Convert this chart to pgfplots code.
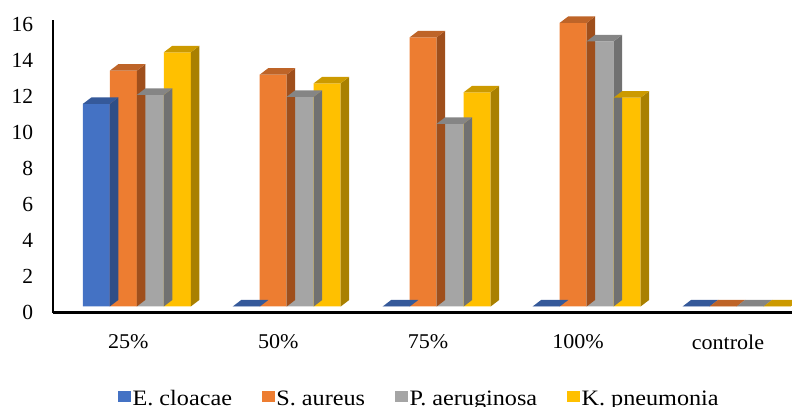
\documentclass[border=0pt]{standalone}
\usepackage{fontspec}
\setmainfont{Liberation Serif}
\newfontfamily\widefont[FakeStretch=1.1]{Liberation Serif}
\newfontfamily\labfont[FakeStretch=1.05]{Liberation Serif}
\usepackage{pgfplots}
\usepackage{pgfplotstable}
\pgfplotsset{compat=1.18}

\definecolor{cBlue}{HTML}{4472C4}
\definecolor{cBlueTop}{HTML}{35599A}
\definecolor{cBlueSide}{HTML}{2E4E87}
\definecolor{cOrange}{HTML}{ED7D31}
\definecolor{cOrangeTop}{HTML}{BE6428}
\definecolor{cOrangeSide}{HTML}{9F4F1C}
\definecolor{cGray}{HTML}{A5A5A5}
\definecolor{cGrayTop}{HTML}{858585}
\definecolor{cGraySide}{HTML}{717171}
\definecolor{cYellow}{HTML}{FFC000}
\definecolor{cYellowTop}{HTML}{CC9A00}
\definecolor{cYellowSide}{HTML}{A98000}

\pgfplotstableread{
x ecl sau pae kpn
0 11.25 13.10 11.75 14.12
1 0     12.88 11.65 12.40
2 0     14.95 10.15 11.90
3 0     15.75 14.73 11.60
4 0     0     0     0
}\data

% side and top face of a bar, origin at the top centre of its front face
% (18bp per unit on the y axis)
\newcommand\boxmark[3]{%
  \pgfdeclareplotmark{#1}{%
    \pgfmathsetmacro\hh{\val*18}%
    \pgfpathmoveto{\pgfqpoint{13.5bp}{0bp}}%
    \pgfpathlineto{\pgfqpoint{22bp}{6.5bp}}%
    \pgfpathlineto{\pgfpoint{22bp}{6.5bp-\hh bp}}%
    \pgfpathlineto{\pgfpoint{13.5bp}{-\hh bp}}%
    \pgfpathclose
    \pgfsetfillcolor{#2}\pgfusepath{fill}%
    \pgfpathmoveto{\pgfqpoint{-13.5bp}{0bp}}%
    \pgfpathlineto{\pgfqpoint{13.5bp}{0bp}}%
    \pgfpathlineto{\pgfqpoint{22bp}{6.5bp}}%
    \pgfpathlineto{\pgfqpoint{-5bp}{6.5bp}}%
    \pgfpathclose
    \pgfsetfillcolor{#3}\pgfusepath{fill}%
  }}
\boxmark{boxA}{cBlueSide}{cBlueTop}
\boxmark{boxB}{cOrangeSide}{cOrangeTop}
\boxmark{boxC}{cGraySide}{cGrayTop}
\boxmark{boxD}{cYellowSide}{cYellowTop}

\pgfplotsset{
  front/.style={ybar, bar width=27bp, bar shift=0pt, draw=none, fill=#1,
    yshift=6bp, forget plot},
  caps/.style={scatter, only marks, mark=#1, point meta=y, yshift=6bp, forget plot,
    visualization depends on={rawy \as \val},
    scatter/@pre marker code/.code={}, scatter/@post marker code/.code={}},
  sq/.style={legend image code/.code={\fill[#1] (0bp,-2bp) rectangle (12bp,7.5bp);}},
}

\begin{document}
\begin{tikzpicture}
\path[use as bounding box] (0,0) rectangle (792bp,407bp);
\begin{axis}[
  at={(53.3bp,94.5bp)}, anchor=south west,
  scale only axis, width=738.7bp, height=292.5bp,
  xmin=-0.5, xmax=4.4267, ymin=0, ymax=16.25,
  axis lines*=left,
  x axis line style={line width=2.6bp},
  y axis line style={line width=2bp},
  major tick length=0pt,
  xtick={0,...,4},
  xticklabels={25\%,50\%,75\%,100\%,controle},
  ytick={0,2,...,16},
  /pgf/number format/assume math mode=true,
  yticklabel style={anchor=east, inner sep=0pt, xshift=-20bp,
    font=\fontsize{21.5bp}{24bp}\selectfont},
  xticklabel style={anchor=north, inner sep=0pt, yshift=-22bp,
    font=\labfont\fontsize{21bp}{24bp}\selectfont},
  clip=false,
  legend columns=4,
  legend cell align=left,
  legend style={at={(0.4957,-0.2957)}, anchor=center, draw=none, fill=none,
    inner sep=0pt, font=\widefont\fontsize{22bp}{26bp}\selectfont,
    /tikz/every even column/.append style={column sep=28bp}},
]
\addplot[front=cBlue, xshift=-32bp] table[x=x,y=ecl]{\data};
\addplot[caps=boxA, xshift=-32bp] table[x=x,y=ecl]{\data};
\addplot[front=cOrange, xshift=-5bp] table[x=x,y=sau]{\data};
\addplot[caps=boxB, xshift=-5bp] table[x=x,y=sau]{\data};
\addplot[front=cGray, xshift=22bp] table[x=x,y=pae]{\data};
\addplot[caps=boxC, xshift=22bp] table[x=x,y=pae]{\data};
\addplot[front=cYellow, xshift=49bp] table[x=x,y=kpn]{\data};
\addplot[caps=boxD, xshift=49bp] table[x=x,y=kpn]{\data};

\addlegendimage{sq=cBlue}
\addlegendentry{E. cloacae}
\addlegendimage{sq=cOrange}
\addlegendentry{S. aureus}
\addlegendimage{sq=cGray}
\addlegendentry{P. aeruginosa}
\addlegendimage{sq=cYellow}
\addlegendentry{K. pneumonia}
\end{axis}
\end{tikzpicture}
\end{document}
